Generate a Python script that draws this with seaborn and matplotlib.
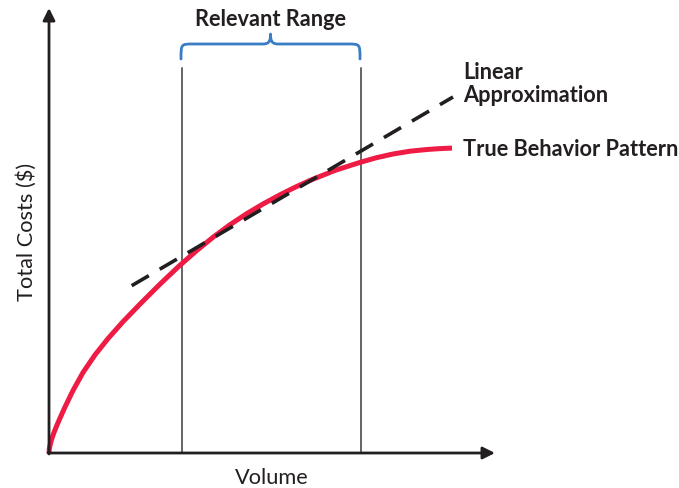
import matplotlib
matplotlib.use("Agg")
import matplotlib.pyplot as plt
import seaborn as sns
import pandas as pd
from matplotlib.path import Path
from matplotlib.patches import PathPatch

# --- data (units = screen-like volume/cost) ---
true_volume = [0, 0.3, 1, 2.7, 5, 8, 11.5, 16, 24, 34, 46, 59, 74, 91, 110, 130, 148,
               164, 181, 198, 214, 231, 246, 261, 286, 311, 327, 344, 361, 378, 391, 403]
true_cost = [0, 4, 7.5, 14, 20.5, 28, 36, 46, 62.5, 80.5, 98.1, 114.4, 131.3, 148.9, 167.9,
             186.9, 202.7, 215.7, 228.3, 239.5, 249, 258.2, 265.7, 272.6, 282.6, 290.6,
             295.2, 299, 301.8, 303.5, 304.4, 304.9]
linear_volume = [82.7, 404]
linear_cost = [167.3, 356]
range_bounds = [133, 312]

labels = {
    "x": "Volume",
    "y": "Total Costs ($)",
    "range": "Relevant Range",
    "linear": "Linear\nApproximation",
    "true": "True Behavior Pattern",
}

sns.set_style("white")
plt.rcParams["font.family"] = ["Lato", "DejaVu Sans"]

fig = plt.figure(figsize=(6.79, 4.89), dpi=100)
ax = fig.add_axes([0, 0, 1, 1])
ax.set_xlim(-49, 630)
ax.set_ylim(-35, 454)
ax.axis("off")

df_true = pd.DataFrame({"v": true_volume, "c": true_cost})
df_lin = pd.DataFrame({"v": linear_volume, "c": linear_cost})

# relevant range vertical lines
for b in range_bounds:
    ax.plot([b, b], [0, 385], color="#58585a", lw=1.3, zorder=1)

sns.lineplot(data=df_true, x="v", y="c", ax=ax, color="#ee1b45", lw=3.6,
             sort=False, estimator=None, zorder=3, solid_capstyle="butt",
             solid_joinstyle="round")
ln = sns.lineplot(data=df_lin, x="v", y="c", ax=ax, color="#231f20", lw=2.6,
                  sort=False, estimator=None, zorder=4)
ln.lines[-1].set_dashes([5.5, 3.5])

# axes arrows
arrow_kw = dict(arrowstyle="-|>", lw=2, color="#231f20", mutation_scale=18,
                shrinkA=0, shrinkB=0)
ax.annotate("", xy=(446, 0), xytext=(-1, 0), arrowprops=arrow_kw, zorder=5)
ax.annotate("", xy=(0, 445), xytext=(0, -1), arrowprops=arrow_kw, zorder=5)

# brace
x0, x1 = range_bounds[0] - 1, range_bounds[1] - 1
xm = (x0 + x1) / 2
yb, yh, yt = 394, 409, 419
r = 12
verts = [
    (x0, yb), (x0, yh), (x0, yh), (x0 + r, yh),
    (xm - 8, yh),
    (xm - 2, yh), (xm, yh + 2), (xm, yt),
    (xm, yh + 2), (xm + 2, yh), (xm + 8, yh),
    (x1 - r, yh),
    (x1, yh), (x1, yh), (x1, yb),
]
codes = [Path.MOVETO, Path.CURVE4, Path.CURVE4, Path.CURVE4,
         Path.LINETO,
         Path.CURVE4, Path.CURVE4, Path.CURVE4,
         Path.CURVE4, Path.CURVE4, Path.CURVE4,
         Path.LINETO,
         Path.CURVE4, Path.CURVE4, Path.CURVE4]
ax.add_patch(PathPatch(Path(verts, codes), fill=False, edgecolor="#3a7dc4", lw=2,
                       capstyle="round", joinstyle="round"))

txt = "#231f20"
fs = 15.7
ax.text(xm, 434, labels["range"], ha="center", va="center", fontsize=fs,
        fontweight="bold", color=txt)
ax.text(414, 370, labels["linear"], ha="left", va="center", fontsize=fs,
        fontweight="bold", color=txt, linespacing=1.15)
ax.text(414, 304, labels["true"], ha="left", va="center", fontsize=fs,
        fontweight="bold", color=txt)
ax.text(223, -24, labels["x"], ha="center", va="center", fontsize=fs, color=txt)
ax.text(-22, 222, labels["y"], ha="center", va="center", fontsize=fs, color=txt,
        rotation=90)

fig.savefig("out.png", dpi=100)
